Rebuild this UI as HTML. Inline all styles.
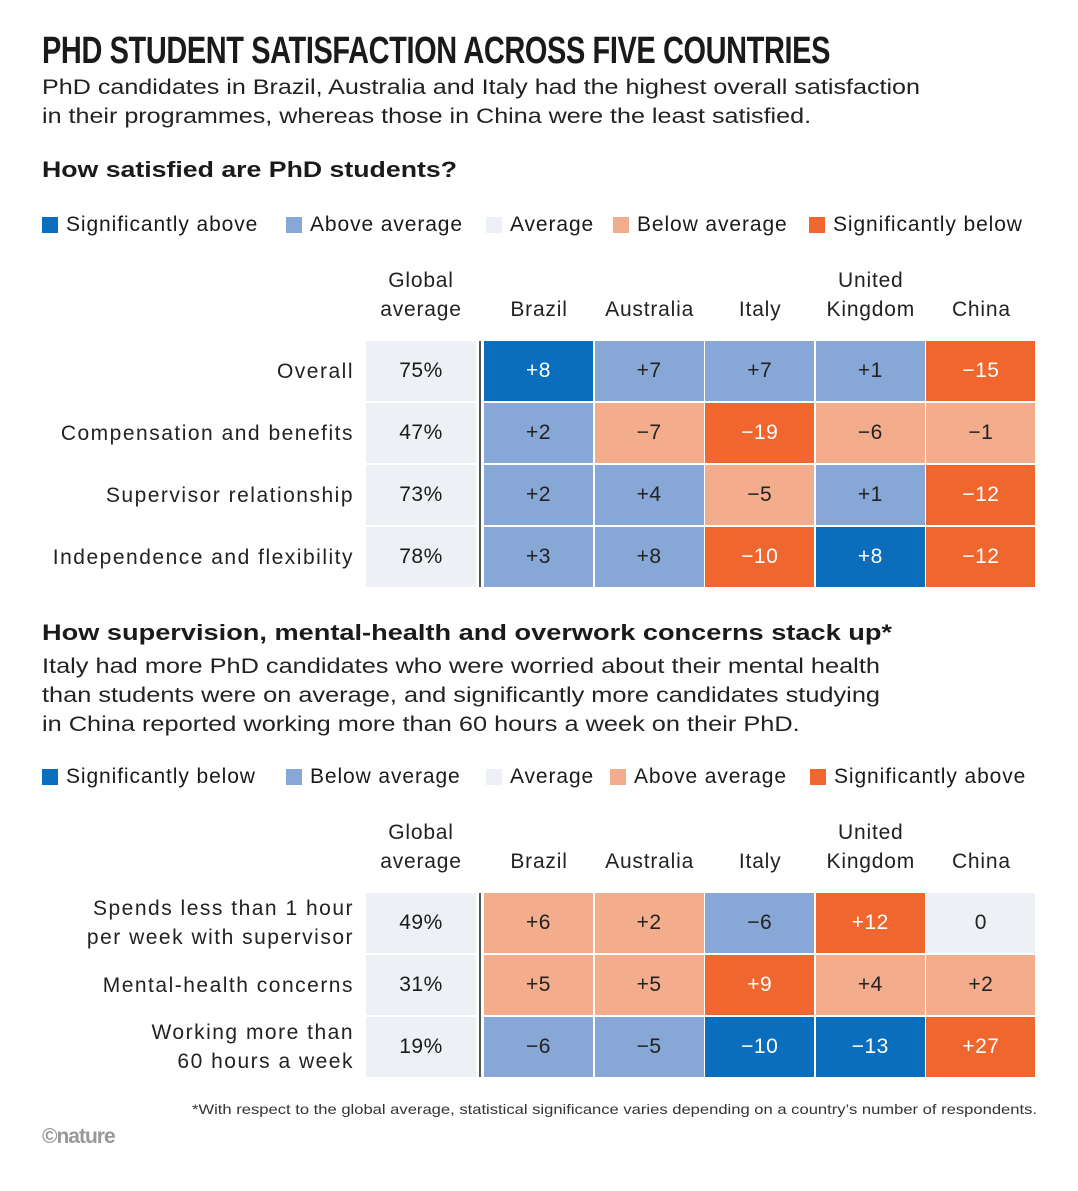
<!DOCTYPE html>
<html><head><meta charset="utf-8">
<style>
body{margin:0;background:#fff;width:1078px;height:1191px;overflow:hidden;font-family:"Liberation Sans",sans-serif;color:#1a1a1a;position:relative}
.a{position:absolute;white-space:nowrap}
.fit{transform-origin:left top}
.title{left:42px;top:30px;font-family:"Liberation Sans Narrow","Liberation Sans",sans-serif;font-weight:bold;font-size:38px;letter-spacing:-0.5px}
.sub{left:42px;font-size:21px;line-height:29px;color:#222}
.h{left:42px;font-size:22px;font-weight:bold}
.leg{font-size:21px;display:flex;align-items:center;letter-spacing:0.9px}
.sw{width:16px;height:16px;margin-right:8px;display:inline-block}
.hdr{font-size:21px;text-align:center;line-height:29px;color:#222;letter-spacing:0.8px}
.rl{font-size:21px;text-align:right;line-height:29px;color:#222;letter-spacing:1.5px}
.cell{position:absolute;display:flex;align-items:center;justify-content:center;font-size:21px;letter-spacing:0.5px}
</style></head><body>
<div class="a title fit" data-w="788">PHD STUDENT SATISFACTION ACROSS FIVE COUNTRIES</div>
<div class="a sub fit" data-w="878" style="top:73px">PhD candidates in Brazil, Australia and Italy had the highest overall satisfaction<br>in their programmes, whereas those in China were the least satisfied.</div>
<div class="a h fit" data-w="415" style="top:157px">How satisfied are PhD students?</div>
<div class="a h fit" data-w="850" style="top:620px">How supervision, mental-health and overwork concerns stack up*</div>
<div class="a sub fit" data-w="838" style="top:652px">Italy had more PhD candidates who were worried about their mental health<br>than students were on average, and significantly more candidates studying<br>in China reported working more than 60 hours a week on their PhD.</div>
<div class="a fit" data-w="845" style="left:192px;top:1101px;font-size:14px;color:#333">*With respect to the global average, statistical significance varies depending on a country’s number of respondents.</div>
<div class="a" style="left:42px;top:1125px;font-size:21px;font-weight:bold;color:#999;letter-spacing:-1px">©nature</div>
<div id="root"></div>
<script>
const colors=["#0a6ebd","#87a7d6","#edf0f4","#f4ad8c","#f0662f"];
const countries=["Brazil","Australia","Italy","United<br>Kingdom","China"];
const legend1=["Significantly above","Above average","Average","Below average","Significantly below"];
const legend2=["Significantly below","Below average","Average","Above average","Significantly above"];
const rows1=["Overall","Compensation and benefits","Supervisor relationship","Independence and flexibility"];
const global1=["75%","47%","73%","78%"];
const values1=[["+8","+7","+7","+1","−15"],["+2","−7","−19","−6","−1"],["+2","+4","−5","+1","−12"],["+3","+8","−10","+8","−12"]];
const cats1=[[0,1,1,1,4],[1,3,4,3,3],[1,1,3,1,4],[1,1,4,0,4]];
const rows2=["Spends less than 1 hour<br>per week with supervisor","Mental-health concerns","Working more than<br>60 hours a week"];
const global2=["49%","31%","19%"];
const values2=[["+6","+2","−6","+12","0"],["+5","+5","+9","+4","+2"],["−6","−5","−10","−13","+27"]];
const cats2=[[3,3,1,4,2],[3,3,4,3,3],[1,1,0,0,4]];
const legX1=[42,286,486,613,809], legX2=[42,286,486,610,810];
const root=document.getElementById('root');
function mk(cls,style,html){const d=document.createElement('div');d.className=cls;d.style.cssText=style;d.innerHTML=html;root.appendChild(d);return d;}
function legend(items,xs,y){items.forEach((t,i)=>{const d=mk('a leg',`left:${xs[i]}px;top:${y}px`,`<span class="sw" style="background:${colors[i]}"></span>${t}`);

});}
function table(rows,glob,vals,cats,hdrTop,rowTop,key){
  const g=mk('a hdr',`left:366px;width:110px;top:${hdrTop}px`,'Global<br>average');
  
  
  countries.forEach((c,i)=>{const x=484+i*110.6;const h=mk('a hdr',`left:${x}px;width:110px;top:${hdrTop+(c.includes('<br>')?0:29)}px`,c);
  
  });
  const sep=mk('a',`left:479px;top:${rowTop}px;width:2px;height:${rows.length*62-2}px;background:#555`,'');
  
  
  rows.forEach((r,j)=>{const y=rowTop+j*62;
    const l=mk('a rl',`right:${1078-354}px;top:${y+30-(r.includes('<br>')?29:14.5)}px`,r);
    
    
    const gc=mk('cell',`left:366px;top:${y}px;width:110px;height:60px;background:#edf0f4`,glob[j]);
    
    
    vals[j].forEach((v,i)=>{const c=cats[j][i];const x=484+i*110.6;
      const light=(c===0||c===4);
      const cell=mk('cell',`left:${x}px;top:${y}px;width:109px;height:60px;background:${colors[c]};color:${light?'#fff':'#222'}`,v);
      
      });
  });
}
legend(legend1,legX1,213);
legend(legend2,legX2,765);
table(rows1,global1,values1,cats1,266,341,'satisfaction');
table(rows2,global2,values2,cats2,818,893,'concerns');
document.querySelectorAll('.fit').forEach(el=>{const w=el.getBoundingClientRect().width;const t=+el.getAttribute('data-w');if(w>0)el.style.transform=`scaleX(${t/w})`;});
</script>
</body></html>
